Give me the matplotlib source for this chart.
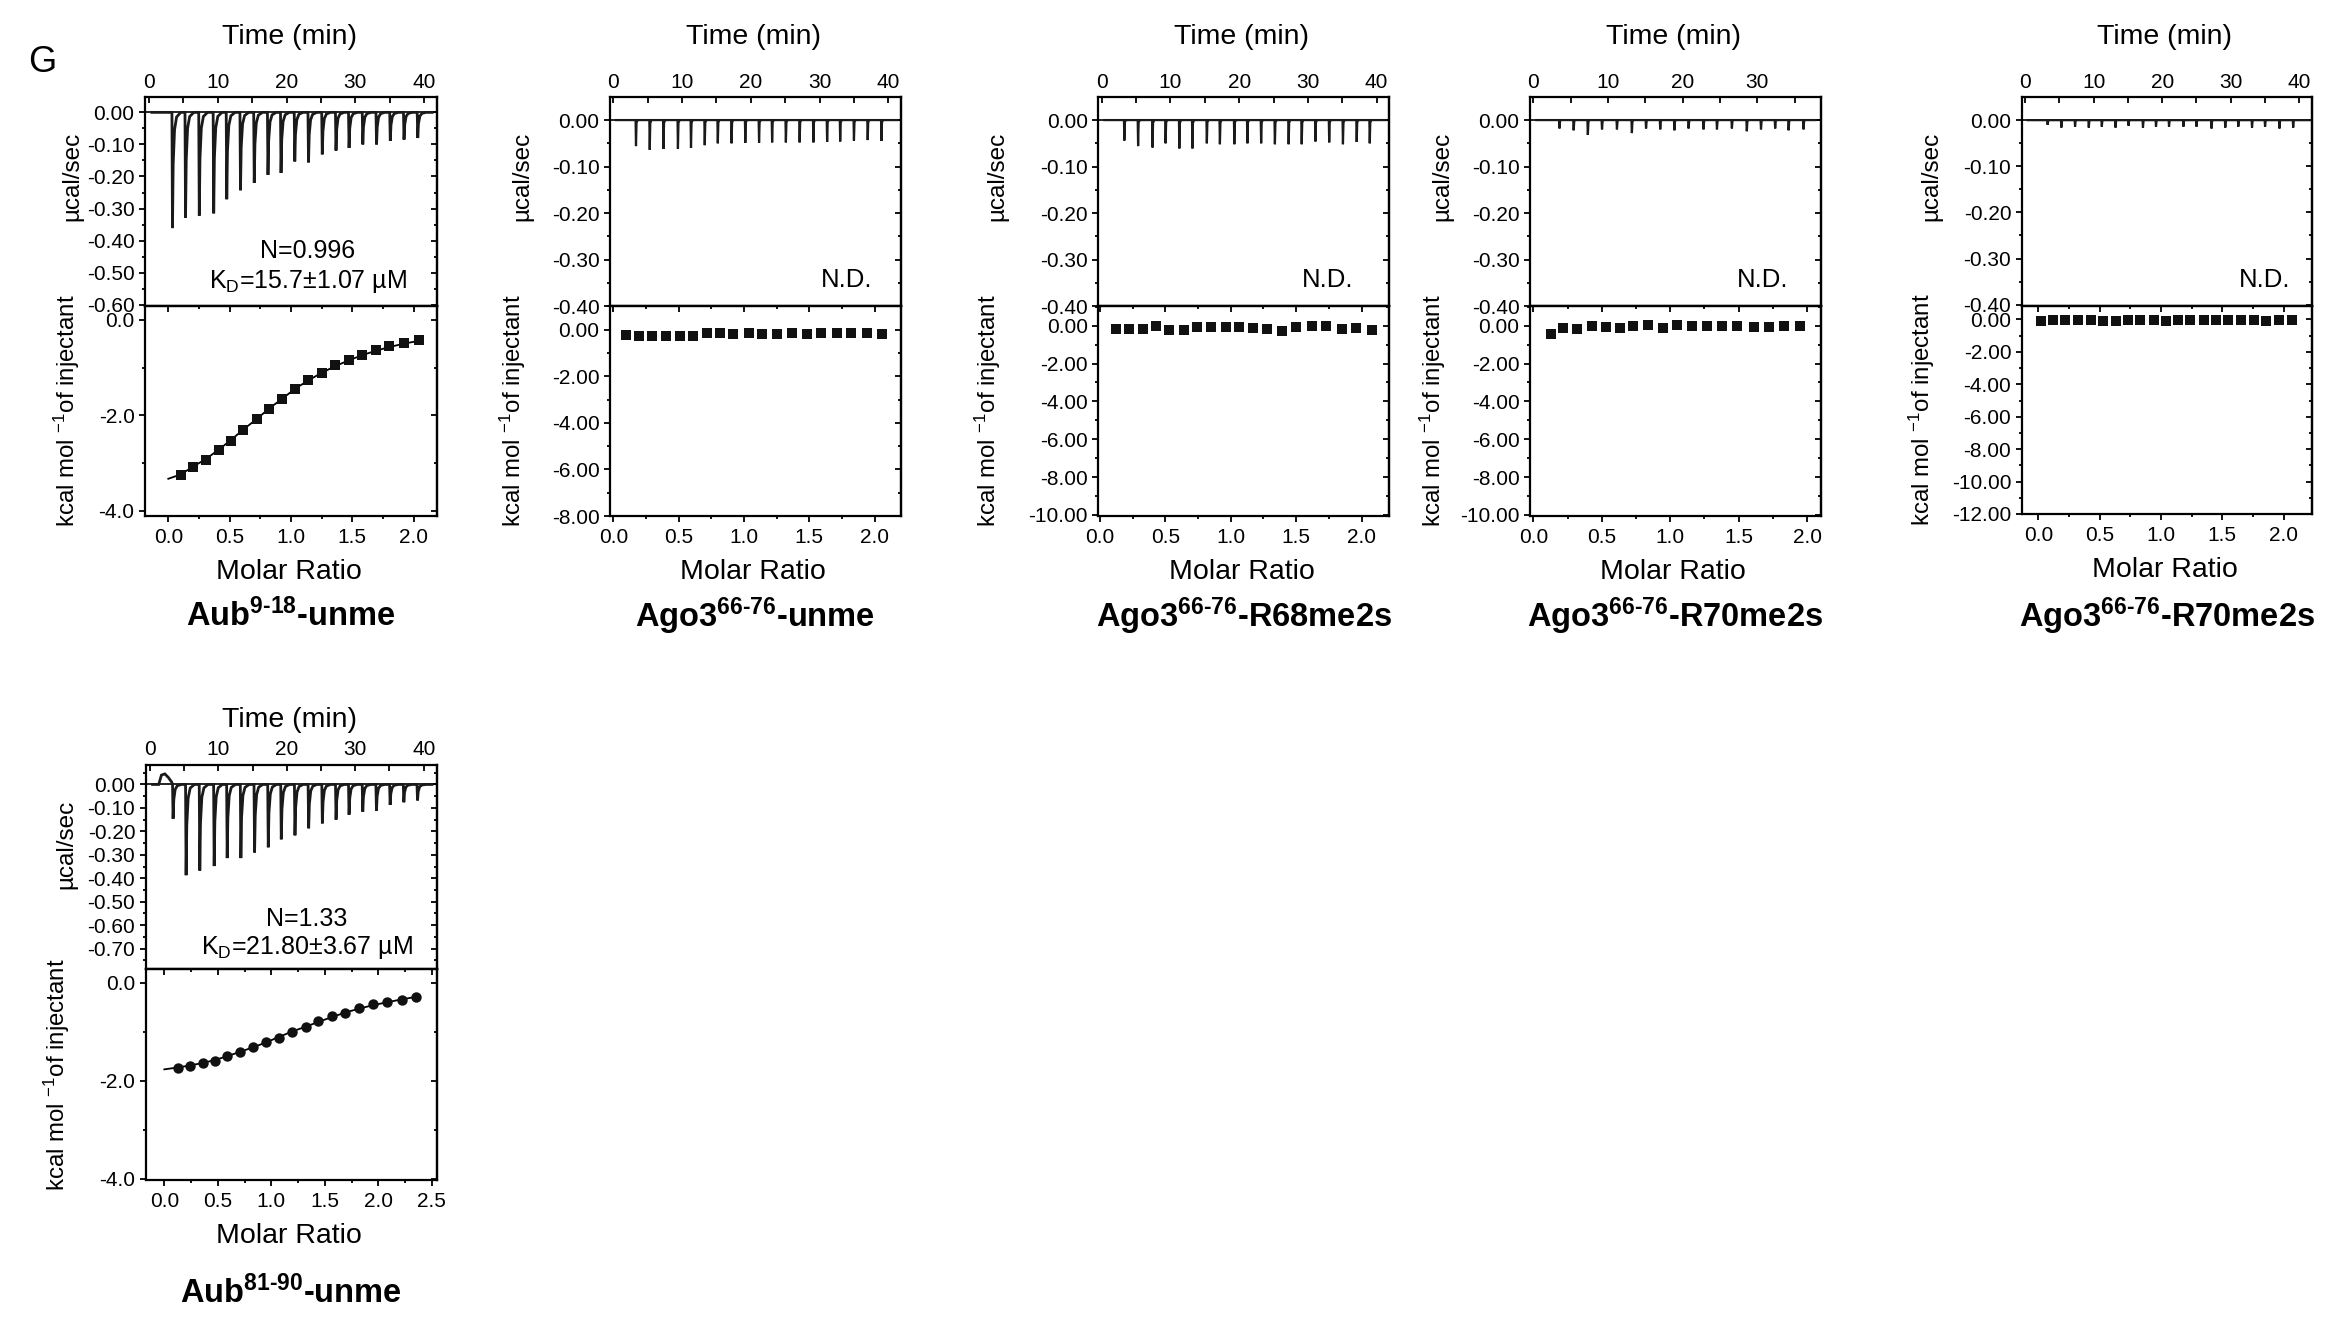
import numpy as np
import matplotlib
matplotlib.use("Agg")
import matplotlib.pyplot as plt
from matplotlib.ticker import MultipleLocator, FormatStrFormatter

plt.rcParams['font.family'] = ['Liberation Sans', 'DejaVu Sans']
plt.rcParams['mathtext.fontset'] = 'custom'
plt.rcParams['mathtext.rm'] = 'Liberation Sans'
plt.rcParams['mathtext.it'] = 'Liberation Sans:italic'
plt.rcParams['mathtext.bf'] = 'Liberation Sans:bold'
plt.rcParams['axes.unicode_minus'] = False

W, H = 2325, 1319

# ---------------- data ----------------
# Aub 9-18 unmethylated
aub918_inj_time = [3.4, 5.3, 7.3, 9.4, 11.3, 13.3, 15.3, 17.3, 19.2, 21.2,
                   23.2, 25.2, 27.2, 29.1, 31.1, 33.1, 35.1, 37.1, 39.1]
aub918_inj_peak = [-0.361, -0.329, -0.322, -0.315, -0.271, -0.243, -0.220, -0.195, -0.189, -0.153,
                   -0.156, -0.131, -0.119, -0.111, -0.100, -0.100, -0.089, -0.085, -0.080]
aub918_ratio = [0.10, 0.20, 0.31, 0.41, 0.51, 0.61, 0.72, 0.82, 0.93, 1.03,
                1.14, 1.25, 1.36, 1.47, 1.58, 1.69, 1.80, 1.92, 2.04]
aub918_heat = [-3.25, -3.08, -2.93, -2.72, -2.53, -2.31, -2.08, -1.86, -1.65, -1.44,
               -1.27, -1.11, -0.95, -0.84, -0.73, -0.64, -0.55, -0.48, -0.43]
aub918_fit_ratio = [0.0, 0.10, 0.20, 0.31, 0.41, 0.51, 0.61, 0.72, 0.82, 0.93, 1.03,
                    1.14, 1.25, 1.36, 1.47, 1.58, 1.69, 1.80, 1.92, 2.04]
aub918_fit_heat = [-3.33, -3.24, -3.08, -2.91, -2.72, -2.52, -2.30, -2.08, -1.86, -1.65, -1.45,
                   -1.27, -1.11, -0.97, -0.85, -0.74, -0.65, -0.57, -0.50, -0.44]

# Ago3 66-76 unmethylated
ago3u_inj_time = [3.3, 5.3, 7.3, 9.4, 11.3, 13.3, 15.2, 17.2, 19.2, 21.2,
                  23.1, 25.1, 27.1, 29.1, 31.1, 33.0, 35.0, 37.0, 39.0]
ago3u_inj_peak = [-0.056, -0.064, -0.062, -0.062, -0.060, -0.054, -0.050, -0.050, -0.049, -0.049,
                  -0.048, -0.048, -0.048, -0.048, -0.047, -0.046, -0.044, -0.043, -0.045]
ago3u_ratio = [0.10, 0.20, 0.30, 0.40, 0.51, 0.61, 0.72, 0.82, 0.92, 1.04,
               1.14, 1.25, 1.37, 1.48, 1.59, 1.71, 1.82, 1.94, 2.06]
ago3u_heat = [-0.21, -0.28, -0.25, -0.25, -0.28, -0.25, -0.16, -0.16, -0.19, -0.16,
              -0.18, -0.18, -0.16, -0.18, -0.16, -0.12, -0.12, -0.12, -0.18]

# Ago3 66-76 R68me2s
ago3r68_inj_time = [3.3, 5.3, 7.4, 9.3, 11.3, 13.2, 15.3, 17.2, 19.3, 21.2,
                    23.2, 25.2, 27.2, 29.1, 31.1, 33.1, 35.1, 37.1, 39.0]
ago3r68_inj_peak = [-0.044, -0.056, -0.059, -0.050, -0.061, -0.061, -0.050, -0.052, -0.052, -0.050,
                    -0.050, -0.052, -0.052, -0.052, -0.046, -0.048, -0.052, -0.047, -0.050]
ago3r68_ratio = [0.12, 0.22, 0.33, 0.43, 0.53, 0.64, 0.74, 0.85, 0.96, 1.06,
                 1.17, 1.28, 1.39, 1.50, 1.62, 1.73, 1.85, 1.96, 2.08]
ago3r68_heat = [-0.15, -0.15, -0.15, -0.02, -0.24, -0.22, -0.09, -0.09, -0.05, -0.09,
                -0.11, -0.20, -0.26, -0.05, -0.02, -0.02, -0.20, -0.13, -0.22]

# Ago3 66-76 R70me2s (first run)
ago3r70a_inj_time = [3.5, 5.4, 7.3, 9.2, 11.2, 13.2, 15.1, 17.0, 18.9, 20.8,
                     22.8, 24.6, 26.6, 28.6, 30.5, 32.4, 34.2, 36.2]
ago3r70a_inj_peak = [-0.018, -0.022, -0.032, -0.020, -0.020, -0.028, -0.018, -0.020, -0.022, -0.018,
                     -0.020, -0.020, -0.018, -0.024, -0.020, -0.018, -0.022, -0.020]
ago3r70a_ratio = [0.13, 0.22, 0.32, 0.43, 0.53, 0.63, 0.73, 0.84, 0.95, 1.05,
                  1.16, 1.27, 1.38, 1.49, 1.61, 1.72, 1.83, 1.95]
ago3r70a_heat = [-0.45, -0.11, -0.15, -0.02, -0.07, -0.11, -0.01, 0.01, -0.13, 0.03,
                 -0.04, -0.02, -0.01, -0.04, -0.09, -0.07, -0.04, -0.02]

# Ago3 66-76 R70me2s (second run)
ago3r70b_inj_time = [3.3, 5.3, 7.3, 9.3, 11.2, 13.2, 15.1, 17.2, 19.1, 21.0,
                     23.1, 25.0, 27.2, 29.2, 31.1, 33.1, 35.0, 37.1, 39.1]
ago3r70b_inj_peak = [-0.010, -0.016, -0.014, -0.016, -0.014, -0.016, -0.012, -0.016, -0.014, -0.014,
                     -0.014, -0.014, -0.018, -0.016, -0.014, -0.016, -0.014, -0.018, -0.016]
ago3r70b_ratio = [0.02, 0.12, 0.22, 0.32, 0.43, 0.53, 0.63, 0.73, 0.83, 0.94,
                  1.04, 1.14, 1.24, 1.35, 1.45, 1.55, 1.65, 1.76, 1.86, 1.96, 2.07]
ago3r70b_heat = [-0.08, -0.06, -0.06, -0.06, -0.06, -0.08, -0.08, -0.06, -0.06, -0.06,
                 -0.08, -0.06, -0.06, -0.04, -0.06, -0.06, -0.06, -0.06, -0.08, -0.06, -0.06]

# Aub 81-90 unmethylated
aub8190_inj_time = [3.4, 5.3, 7.3, 9.4, 11.3, 13.3, 15.3, 17.3, 19.2, 21.2,
                    23.2, 25.2, 27.2, 29.1, 31.1, 33.1, 35.1, 37.1, 39.1]
aub8190_inj_peak = [-0.146, -0.387, -0.367, -0.348, -0.314, -0.314, -0.290, -0.268, -0.234, -0.217,
                    -0.187, -0.166, -0.150, -0.129, -0.116, -0.112, -0.087, -0.076, -0.068]
aub8190_pre_time = [0.6, 1.3, 1.7, 2.2, 2.7, 3.2]
aub8190_pre_val = [0.0, 0.0, 0.040, 0.045, 0.030, 0.010]
aub8190_ratio = [0.13, 0.24, 0.36, 0.47, 0.59, 0.71, 0.83, 0.95, 1.07, 1.19,
                 1.32, 1.44, 1.57, 1.69, 1.82, 1.95, 2.08, 2.22, 2.35]
aub8190_heat = [-1.74, -1.70, -1.64, -1.59, -1.49, -1.41, -1.32, -1.21, -1.12, -1.00,
                -0.90, -0.79, -0.68, -0.61, -0.52, -0.44, -0.39, -0.35, -0.30]
aub8190_fit_ratio = [0.0, 0.13, 0.24, 0.36, 0.47, 0.59, 0.71, 0.83, 0.95, 1.07, 1.19,
                     1.32, 1.44, 1.57, 1.69, 1.82, 1.95, 2.08, 2.22, 2.35]
aub8190_fit_heat = [-1.77, -1.73, -1.69, -1.64, -1.58, -1.50, -1.41, -1.32, -1.22, -1.11, -1.00,
                    -0.90, -0.80, -0.70, -0.61, -0.53, -0.46, -0.40, -0.34, -0.29]


def px_box(left, right, top, bottom):
    return [left / W, 1 - bottom / H, (right - left) / W, (bottom - top) / H]


def thermogram(times, peaks, t0, t1, tail, pre_t=None, pre_v=None):
    # sharp injection spikes on a flat baseline
    if tail:
        dts, fr = [-0.08, 0.0, 0.10, 0.30, 0.60, 1.20], [0, 1, 0.45, 0.15, 0.04, 0]
    else:
        dts, fr = [-0.06, 0.0, 0.08, 0.25], [0, 1, 0.1, 0]
    xs, ys = [t0], [0.0]
    if pre_t is not None:
        xs += list(pre_t)
        ys += list(pre_v)
    for t, p in zip(times, peaks):
        for d, f in zip(dts, fr):
            xs.append(t + d)
            ys.append(p * f)
    xs.append(t1)
    ys.append(0.0)
    return xs, ys


fig = plt.figure(figsize=(W / 100, H / 100), dpi=100)

TICK = 15
MAJ, MIN, TW = 4.5, 2.5, 1.3


def add_panel(box, tlim, tmaj, top_ylim, top_maj, bot_ylim, bot_maj, bot_fmt, rlim,
              times, peaks, ratio, heat, marker, msize, tail, t_end,
              fit=None, pre=None, label_x=None, ann=None, title=None, title_y=None,
              time_dy=60, lw=1.6):
    l, r, t, m, b = box
    ax_t = fig.add_axes(px_box(l, r, t, m))
    ax_b = fig.add_axes(px_box(l, r, m, b))

    # raw thermogram
    xs, ys = thermogram(times, peaks, 0.4, t_end, tail,
                        None if pre is None else pre[0], None if pre is None else pre[1])
    ax_t.plot(xs, ys, color='#1a1a1a', lw=lw, solid_joinstyle='miter')
    ax_t.axhline(0, color='black', lw=1.2, zorder=0)
    ax_t.set_xlim(*tlim)
    ax_t.set_ylim(*top_ylim)
    ax_t.xaxis.tick_top()
    ax_t.xaxis.set_major_locator(MultipleLocator(tmaj))
    ax_t.xaxis.set_minor_locator(MultipleLocator(5))
    ax_t.yaxis.set_major_locator(MultipleLocator(top_maj))
    ax_t.yaxis.set_minor_locator(MultipleLocator(top_maj / 2))
    ax_t.yaxis.set_major_formatter(FormatStrFormatter('%.2f'))
    ax_t.tick_params(axis='x', which='both', direction='in', top=True, bottom=False,
                     labelsize=TICK, pad=4, width=TW, length=MAJ)
    ax_t.tick_params(axis='y', which='both', direction='out', left=True, right=False,
                     labelsize=TICK, pad=3, width=TW)
    ax_t.tick_params(axis='y', which='major', length=MAJ)
    ax_t.tick_params(axis='y', which='minor', length=MIN)
    sec = ax_t.secondary_yaxis('right')
    sec.yaxis.set_major_locator(MultipleLocator(top_maj))
    sec.yaxis.set_minor_locator(MultipleLocator(top_maj / 2))
    sec.tick_params(axis='y', which='both', direction='in', labelright=False, width=TW)
    sec.tick_params(axis='y', which='major', length=MAJ)
    sec.tick_params(axis='y', which='minor', length=MIN)

    # integrated heats
    if fit is not None:
        ax_b.plot(fit[0], fit[1], color='black', lw=1.3, zorder=2)
    ax_b.plot(ratio, heat, linestyle='none', marker=marker, ms=msize, color='#111111',
              markeredgewidth=0, zorder=3)
    ax_b.set_xlim(*rlim)
    ax_b.set_ylim(*bot_ylim)
    ax_b.xaxis.set_major_locator(MultipleLocator(0.5))
    ax_b.xaxis.set_minor_locator(MultipleLocator(0.25))
    ax_b.xaxis.set_major_formatter(FormatStrFormatter('%.1f'))
    ax_b.yaxis.set_major_locator(MultipleLocator(bot_maj))
    ax_b.yaxis.set_minor_locator(MultipleLocator(bot_maj / 2))
    ax_b.yaxis.set_major_formatter(FormatStrFormatter(bot_fmt))
    ax_b.tick_params(axis='both', which='both', direction='out', top=False, right=False,
                     labelsize=TICK, width=TW)
    ax_b.tick_params(axis='x', pad=4)
    ax_b.tick_params(axis='y', pad=3)
    ax_b.tick_params(axis='both', which='major', length=MAJ)
    ax_b.tick_params(axis='both', which='minor', length=MIN)
    sx = ax_b.secondary_xaxis('top')
    sx.xaxis.set_major_locator(MultipleLocator(0.5))
    sx.xaxis.set_minor_locator(MultipleLocator(0.25))
    sx.tick_params(axis='x', which='both', direction='in', labeltop=False, width=TW)
    sx.tick_params(axis='x', which='major', length=MAJ)
    sx.tick_params(axis='x', which='minor', length=MIN)
    sy = ax_b.secondary_yaxis('right')
    sy.yaxis.set_major_locator(MultipleLocator(bot_maj))
    sy.yaxis.set_minor_locator(MultipleLocator(bot_maj / 2))
    sy.tick_params(axis='y', which='both', direction='in', labelright=False, width=TW)
    sy.tick_params(axis='y', which='major', length=MAJ)
    sy.tick_params(axis='y', which='minor', length=MIN)

    for a in (ax_t, ax_b, sec, sx, sy):
        for s in a.spines.values():
            s.set_linewidth(1.6)

    # axis labels placed from pixel positions
    def to_ax(ax_box_top, ax_box_bot, x_px, y_px):
        return (x_px - l) / (r - l), (ax_box_bot - y_px) / (ax_box_bot - ax_box_top)

    ax_t.set_xlabel('Time (min)', fontsize=20.5)
    ax_t.xaxis.set_label_position('top')
    ax_t.xaxis.set_label_coords(*to_ax(t, m, (l + r) / 2 - 2, t - time_dy))
    ax_t.xaxis.label.set_va('center')

    ax_t.set_ylabel('µcal/sec', fontsize=17.5)
    ax_t.yaxis.set_label_coords(*to_ax(t, m, label_x[0], t + 79))
    ax_t.yaxis.label.set_va('center')

    ax_b.set_ylabel('kcal mol $^{-1}$of injectant', fontsize=17.3)
    ax_b.yaxis.set_label_coords(*to_ax(m, b, label_x[1], (m + b) / 2))
    ax_b.yaxis.label.set_va('center')

    ax_b.set_xlabel('Molar Ratio', fontsize=20.5)
    ax_b.xaxis.set_label_coords(*to_ax(m, b, (l + r) / 2 - 2, b + 56))
    ax_b.xaxis.label.set_va('center')

    if ann is not None:
        for txt, ax_x, ax_y, ha, fs in ann:
            ax_t.text(ax_x, ax_y, txt, transform=ax_t.transAxes, fontsize=fs,
                      ha=ha, va='center')

    fig.text(((l + r) / 2) / W, 1 - title_y / H, title, fontsize=23.5,
             fontweight='bold', ha='center', va='center')
    return ax_t, ax_b


R1 = (97.3, 306, 516)
R2 = (765, 969, 1180)

add_panel((145, 437) + R1, (-0.6, 41.9), 10, (-0.604, 0.047), 0.1, (-4.11, 0.29), 2.0, '%.1f',
          (-0.19, 2.19), aub918_inj_time, aub918_inj_peak, aub918_ratio, aub918_heat,
          's', 6.5, True, 41.2, fit=(aub918_fit_ratio, aub918_fit_heat),
          label_x=(72, 67), lw=2.0,
          ann=[('N=0.996', 0.558, 0.265, 'center', 18),
               ('K$_\\mathrm{D}$=15.7±1.07 µM', 0.558, 0.118, 'center', 18)],
          title='Aub$^{\\mathbf{9‐18}}$-unme', title_y=616)

add_panel((610, 900.7) + R1, (-0.48, 41.8), 10, (-0.40, 0.049), 0.1, (-8.0, 1.02), 2.0, '%.2f',
          (-0.025, 2.2), ago3u_inj_time, ago3u_inj_peak, ago3u_ratio, ago3u_heat,
          's', 6.5, False, 41.3, label_x=(522, 513),
          ann=[('N.D.', 0.901, 0.125, 'right', 18.5)],
          title='Ago3$^{\\mathbf{66‐76}}$-unme', title_y=616)

add_panel((1098.3, 1389) + R1, (-0.49, 41.8), 10, (-0.40, 0.049), 0.1, (-10.06, 1.04), 2.0, '%.2f',
          (-0.013, 2.21), ago3r68_inj_time, ago3r68_inj_peak, ago3r68_ratio, ago3r68_heat,
          's', 6.5, False, 41.3, label_x=(997, 988),
          ann=[('N.D.', 0.877, 0.125, 'right', 18.5)],
          title='Ago3$^{\\mathbf{66‐76}}$-R68me2s', title_y=616)

add_panel((1530, 1820.7) + R1, (-0.45, 38.5), 10, (-0.40, 0.049), 0.1, (-10.06, 1.04), 2.0, '%.2f',
          (-0.024, 2.1), ago3r70a_inj_time, ago3r70a_inj_peak, ago3r70a_ratio, ago3r70a_heat,
          's', 6.5, False, 37.8, label_x=(1442, 1433),
          ann=[('N.D.', 0.889, 0.125, 'right', 18.5)],
          title='Ago3$^{\\mathbf{66‐76}}$-R70me2s', title_y=616)

add_panel((2021.7, 2311.7, 97.3, 306, 514), (-0.48, 41.8), 10, (-0.403, 0.0496), 0.1, (-12.0, 0.83), 2.0, '%.2f',
          (-0.136, 2.23), ago3r70b_inj_time, ago3r70b_inj_peak, ago3r70b_ratio, ago3r70b_heat,
          's', 6.5, False, 41.5, label_x=(1931, 1922),
          ann=[('N.D.', 0.925, 0.125, 'right', 18.5)],
          title='Ago3$^{\\mathbf{66‐76}}$-R70me2s', title_y=616)

add_panel((145.7, 436.7) + R2, (-0.6, 41.9), 10, (-0.787, 0.083), 0.1, (-4.03, 0.28), 2.0, '%.1f',
          (-0.174, 2.546), aub8190_inj_time, aub8190_inj_peak, aub8190_ratio, aub8190_heat,
          'o', 7.5, True, 41.2, fit=(aub8190_fit_ratio, aub8190_fit_heat),
          pre=(aub8190_pre_time, aub8190_pre_val), label_x=(66, 57), time_dy=45, lw=2.0,
          ann=[('N=1.33', 0.553, 0.244, 'center', 18),
               ('K$_\\mathrm{D}$=21.80±3.67 µM', 0.553, 0.103, 'center', 18)],
          title='Aub$^{\\mathbf{81‐90}}$-unme', title_y=1293)

fig.text(42 / W, 1 - 63 / H, 'G', fontsize=26, ha='center', va='center')

fig.savefig('out.png', dpi=100)
